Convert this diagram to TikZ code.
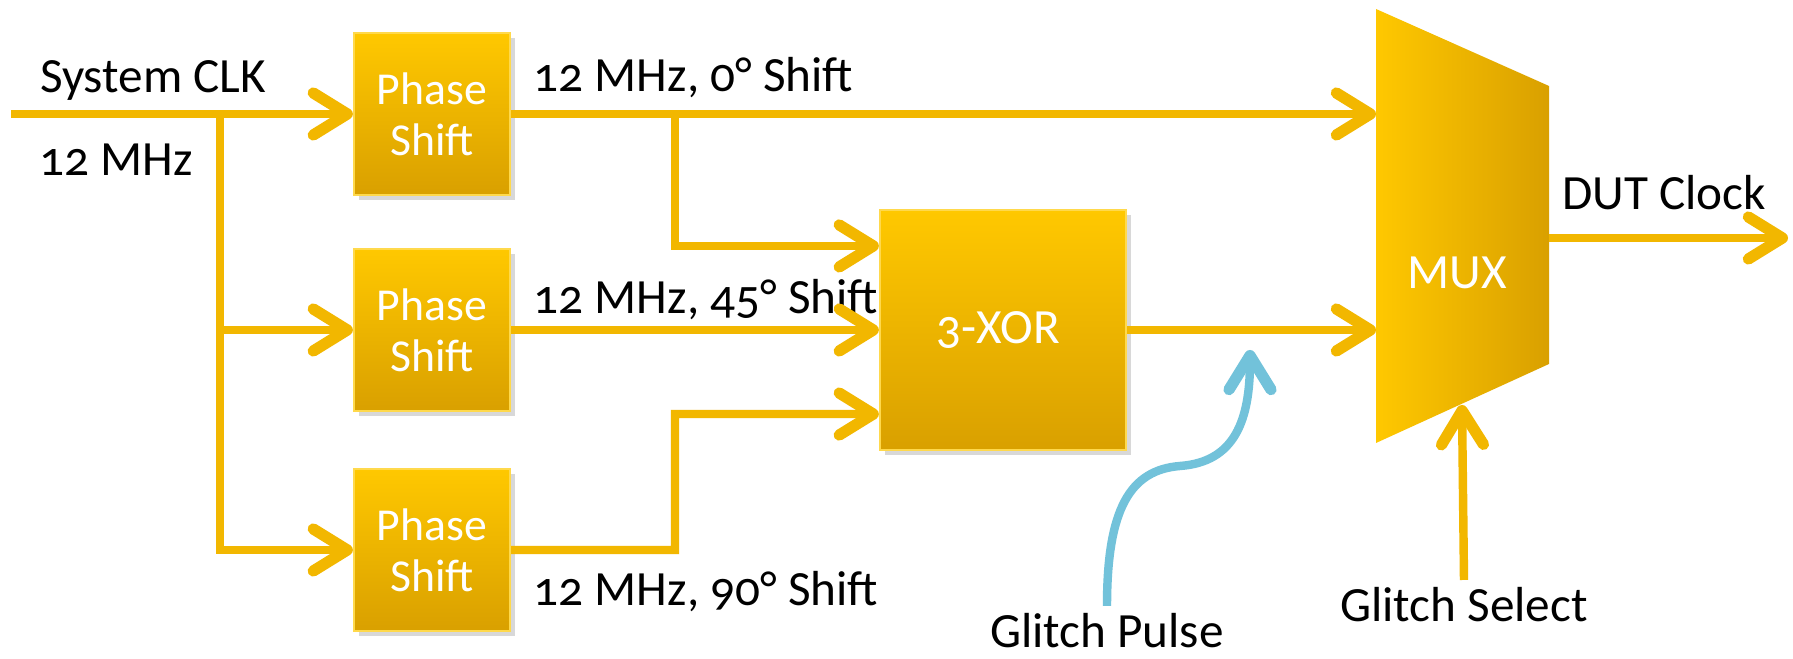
\documentclass[tikz,border=0pt]{standalone}
\usepackage{fontspec}
\setmainfont{Carlito}[Numbers=OldStyle]
\usetikzlibrary{arrows.meta,positioning,shadows}
\definecolor{boxtop}{HTML}{FFC800}
\definecolor{boxbottom}{HTML}{D9A000}
\definecolor{wirecol}{HTML}{F2B700}
\definecolor{pulsecol}{HTML}{72C2DA}

\begin{document}
\begin{tikzpicture}[
    x=0.01cm, y=-0.01cm,
    font=\fontsize{14}{16}\selectfont,
    block/.style={draw=boxtop!70!white, line width=0.6pt, top color=boxtop, bottom color=boxbottom, text=white, align=center, drop shadow={shadow xshift=1.5pt, shadow yshift=-1.5pt, opacity=0.3}},
    phasebox/.style={block, minimum width=1.56cm, minimum height=1.62cm, font=\fontsize{13}{14.5}\selectfont},
    xorbox/.style={block, minimum width=2.46cm, minimum height=2.4cm},
    txt/.style={inner sep=2pt},
    wire/.style={draw=wirecol, line width=2.4pt},
    arrow/.style={wire, -{Straight Barb[length=3.4mm, width=4.2mm, line width=3.2pt, round]}},
    pulsearrow/.style={arrow, draw=pulsecol}
  ]
    \fill[white] (0,0) rectangle (1793,659);
    \useasboundingbox (0,0) rectangle (1793,659);

    \node[phasebox] (ps1) at (432,114) {Phase\\Shift};
    \node[phasebox] (ps2) at (432,330) {Phase\\Shift};
    \node[phasebox] (ps3) at (432,550) {Phase\\Shift};
    \node[xorbox] (xor) at (1003,330) {\hspace*{-0.1cm}3-XOR};

    \shade[left color=boxtop, right color=boxbottom] (1376,9) -- (1549,86) -- (1549,364) -- (1376,443) -- cycle;
    \node[txt, text=white] (mux) at (1457,273) {MUX};
    \coordinate (muxin1) at (1376,114);
    \coordinate (muxin2) at (1376,330);
    \coordinate (muxsel) at (1462,405);
    \coordinate (muxout) at (1549,238);

    \node[txt] (clktxt) at (153,81) {System CLK};
    \node[txt] (clkfreq) at (116,160) {12 MHz};
    \node[txt, anchor=west] (f0) at (526,78) {12 MHz, 0° Shift};
    \node[txt, anchor=west] (f45) at (526,300) {12 MHz, 45° Shift};
    \node[txt, anchor=west] (f90) at (526,592) {12 MHz, 90° Shift};
    \node[txt] (dut) at (1664,193) {DUT Clock};
    \node[txt] (gp) at (1107,631) {Glitch Pulse};
    \node[txt] (gs) at (1464,605) {Glitch Select};

    \coordinate (clkin) at (11,114);
    \coordinate (split) at (220,114);
    \coordinate (tap1) at (675,114);
    \coordinate (tap3) at (675,414);
    \coordinate (dutend) at (1788,238);
    \coordinate (pulsetip) at (1250,350);

    \draw[arrow] (clkin) -- (ps1);
    \draw[arrow] (split) |- (ps3);
    \draw[arrow] (split |- ps2) -- (ps2);
    \draw[arrow] (ps1) -- (muxin1);
    \draw[arrow] (tap1) |- ([yshift=0.84cm]xor.west);
    \draw[arrow] (ps2) -- (xor);
    \draw[arrow] (ps3) -| (tap3) -- ([yshift=-0.84cm]xor.west);
    \draw[arrow] (xor) -- (muxin2);
    \draw[arrow] (muxout) -- (dutend);
    \draw[arrow] (gs.north) -- (muxsel);
    \draw[pulsearrow] (gp.north) .. controls +(0,-97) and +(-50,4) .. (1180,466) .. controls +(55,-4) and +(0,70) .. (pulsetip);
  \end{tikzpicture}
\end{document}
